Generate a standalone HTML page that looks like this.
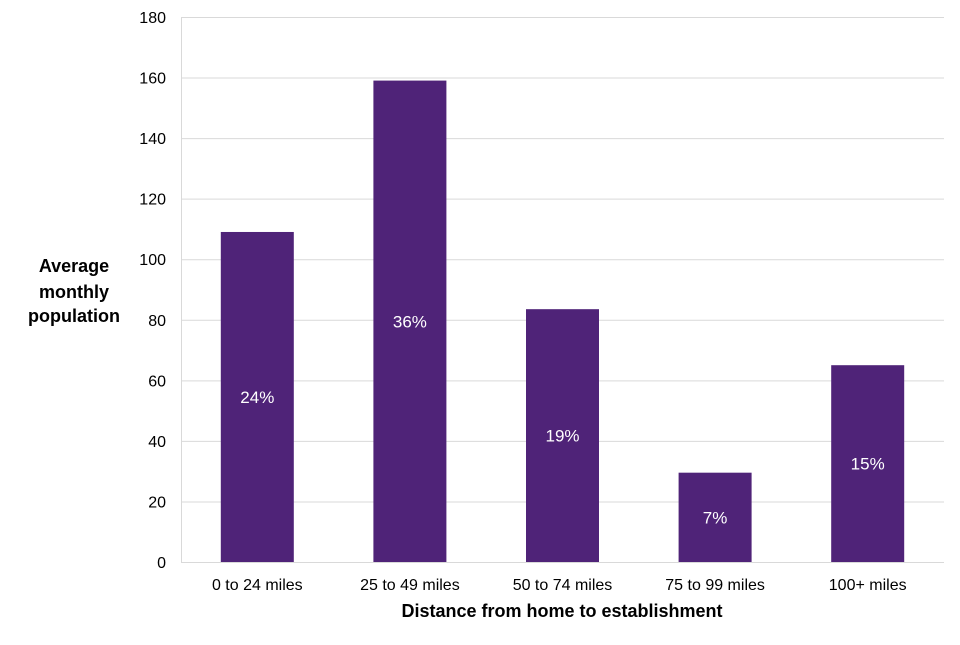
<!DOCTYPE html>
<html><head><meta charset="utf-8"><style>
html,body{margin:0;padding:0;background:#fff;}
svg text{font-family:"Liberation Sans",Arial,sans-serif;}
</style></head><body>
<svg id="chart" width="960" height="640" viewBox="0 0 960 640" xmlns="http://www.w3.org/2000/svg">
<g id="grid"></g><g id="bars"></g><g id="labels"></g><g id="axes"></g>
<text x="74" y="272" text-anchor="middle" font-size="18" font-weight="bold" fill="#000"><tspan x="74" y="272">Average</tspan><tspan x="74" y="298">monthly</tspan><tspan x="74" y="322">population</tspan></text>
<text x="562" y="617" text-anchor="middle" font-size="18" font-weight="bold" fill="#000">Distance from home to establishment</text>
</svg>
<script>
const categories = ["0 to 24 miles","25 to 49 miles","50 to 74 miles","75 to 99 miles","100+ miles"];
const values = [109,159,83.5,29.5,65];
const pctLabels = ["24%","36%","19%","7%","15%"];
const yTicks = [0,20,40,60,80,100,120,140,160,180];
const NS="http://www.w3.org/2000/svg";
const L=181,R=944,T=17,B=562,yMax=180;
const y=v=>B-(v/yMax)*(B-T);
const bw=(R-L)/categories.length;
const xc=i=>L+bw*(i+0.5);
function mk(tag,attrs,parent,text){const e=document.createElementNS(NS,tag);for(const k in attrs)e.setAttribute(k,attrs[k]);if(text!==undefined)e.textContent=text;document.getElementById(parent).appendChild(e);return e;}
yTicks.forEach(t=>{
  const g=mk('line',{x1:L,x2:R,y1:y(t)+0.5,y2:y(t)+0.5,stroke:'#d9d9d9','stroke-width':1},'grid');
  
  
  const tl=mk('text',{x:166,y:y(t)+6,'text-anchor':'end','font-size':16,fill:'#000'},'axes',String(t));
  
  
});
const ax=mk('line',{x1:L+0.5,x2:L+0.5,y1:T,y2:B,stroke:'#d9d9d9','stroke-width':1},'axes');


const w=73;
categories.forEach((c,i)=>{
  const r=mk('rect',{x:xc(i)-w/2,y:y(values[i]),width:w,height:B-y(values[i]),fill:'#4f2378'},'bars');
  
  
  const lb=mk('text',{x:xc(i),y:(y(values[i])+B)/2+6,'text-anchor':'middle','font-size':17,fill:'#fff'},'labels',pctLabels[i]);
  
  
  const xl=mk('text',{x:xc(i),y:590,'text-anchor':'middle','font-size':16,fill:'#000'},'axes',c);
  
  
});
</script>
</body></html>
